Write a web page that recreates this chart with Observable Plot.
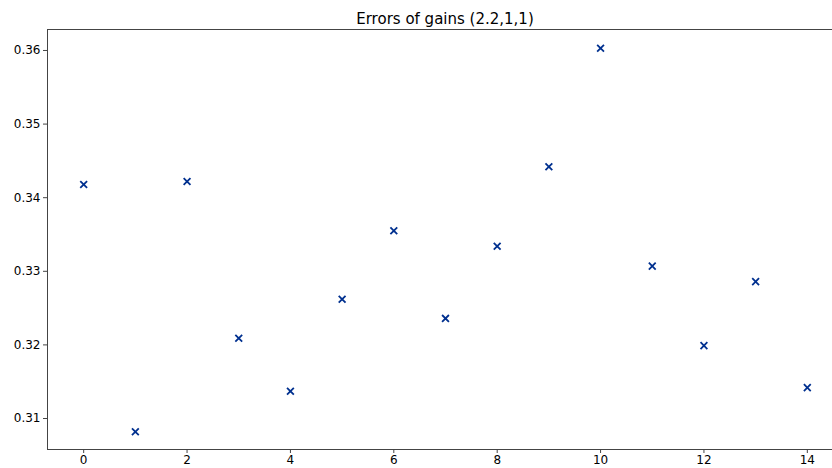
<!DOCTYPE html>
<html>
<head>
<meta charset="utf-8">
<script src="https://cdn.jsdelivr.net/npm/d3@7"></script>
<script src="https://cdn.jsdelivr.net/npm/@observablehq/plot@0.6"></script>
<style>
  html, body { margin: 0; padding: 0; background: #fff; }
  #wrap { position: relative; width: 832px; height: 468px; overflow: hidden; background: #fff; }
  #title { position: absolute; z-index: 2; top: 10px; left: 47px; width: 796px; text-align: center;
           font-family: "DejaVu Sans", sans-serif; font-size: 15px; color: #000; line-height: 18px; }
  svg { position: absolute; top: 0; left: 0; z-index: 1; }
</style>
</head>
<body>
<div id="wrap">
  <div id="title">Errors of gains (2.2,1,1)</div>
</div>
<script>
const titleText = "Errors of gains (2.2,1,1)";
const indices = [0, 1, 2, 3, 4, 5, 6, 7, 8, 9, 10, 11, 12, 13, 14];
const errors = [0.3418, 0.3082, 0.3422, 0.3209, 0.3137, 0.3262, 0.3355, 0.3236,
                0.3334, 0.3442, 0.3603, 0.3307, 0.3199, 0.3286, 0.3142];
const xTicks = [0, 2, 4, 6, 8, 10, 12, 14];
const yTicks = [0.31, 0.32, 0.33, 0.34, 0.35, 0.36];

const data = indices.map((i, k) => ({x: i, y: errors[k]}));

const chart = Plot.plot({
  width: 832,
  height: 468,
  marginTop: 29,
  marginLeft: 47,
  marginRight: -11,
  marginBottom: 19,
  style: {fontFamily: "DejaVu Sans, sans-serif", fontSize: "12px", color: "#000", background: "transparent"},
  x: {domain: [-0.7, 14.7], label: null},
  y: {domain: [0.30579, 0.36285], label: null},
  marks: [
    Plot.frame({stroke: "#444", strokeWidth: 1}),
    Plot.axisX({ticks: xTicks, tickFormat: d => String(d), tickSize: 4, tickPadding: 2, stroke: "#444", fill: "#000", label: null}),
    Plot.axisY({ticks: yTicks, tickFormat: d3.format(".2f"), tickSize: 4, tickPadding: 3, stroke: "#444", fill: "#000", label: null}),
    Plot.dot(data, {x: "x", y: "y", symbol: "times", r: 3.2, stroke: "#00308f", strokeWidth: 1.8})
  ]
});
document.getElementById("wrap").appendChild(chart);
</script>
</body>
</html>
